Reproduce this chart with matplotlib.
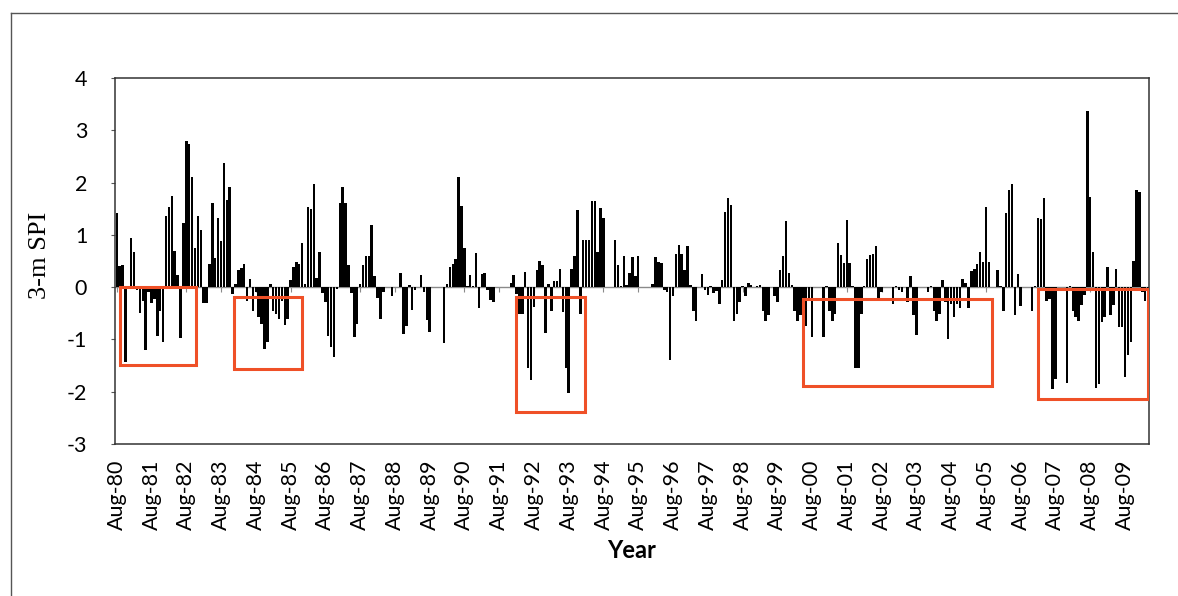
import matplotlib
matplotlib.use("Agg")
import matplotlib.pyplot as plt
import matplotlib.patches as patches
from matplotlib.lines import Line2D
import numpy as np

plt.rcParams["axes.unicode_minus"] = False

# 3-month SPI, monthly from Aug-1980
spi_80s = [
    1.41, 0.40, 0.42, -1.43, 0.02, 0.94, 0.67, -0.06, -0.50, -0.26, -1.20, -0.10,
    -0.30, -0.22, -0.94, -0.45, -1.04, 1.36, 1.54, 1.74, 0.70, 0.24, -0.98, 1.22,
    2.79, 2.74, 2.11, 0.75, 1.36, 1.09, -0.30, -0.30, 0.45, 1.61, 0.56, 1.32,
    0.88, 2.38, 1.66, 1.92, -0.13, 0.06, 0.32, 0.37, 0.44, -0.26, 0.15, -0.46,
    -0.10, -0.58, -0.70, -1.18, -1.04, 0.06, -0.45, -0.51, -0.60, -0.26, -0.73, -0.60,
    0.13, 0.38, 0.48, 0.45, 0.85, 0.06, 1.54, 1.50, 1.97, 0.18, 0.68, -0.12,
    -0.29, -0.93, -1.14, -1.34, -0.03, 1.61, 1.92, 1.60, 0.42, -0.11, -0.96, -0.70,
    0.06, 0.43, 0.59, 0.59, 1.18, 0.21, -0.21, -0.61, -0.10, 0.00, 0.00, -0.16,
    0.00, 0.00, 0.28, -0.90, -0.74, 0.05, -0.44, -0.05, 0.00, 0.24, -0.10, -0.63,
    -0.86, 0.00, 0.00, 0.00, 0.00, -1.06, 0.06, 0.38, 0.45, 0.54, 2.10, 1.55,
]
spi_90s = [
    0.74, 0.03, 0.24, 0.03, 0.65, -0.40, 0.26, 0.28, -0.06, -0.24, -0.29,
    0.01, 0.00, 0.00, 0.00, 0.00, 0.08, 0.24, -0.13, -0.51, -0.51, 0.29, -1.54,
    -1.77, -0.38, 0.32, 0.50, 0.42, -0.88, 0.06, -0.45, 0.12, 0.12, 0.35, -0.48,
    -1.54, -2.02, 0.34, 0.60, 1.47, -0.51, 0.90, 0.90, 0.91, 1.65, 1.65, 0.68,
    1.52, 1.32, 0.00, 0.00, 0.00, 0.91, 0.43, 0.03, 0.60, 0.05, 0.28, 0.58,
    0.21, 0.60, 0.00, 0.00, 0.00, 0.00, 0.06, 0.58, 0.48, 0.46, -0.06, -0.10,
    -1.40, -0.16, 0.64, 0.80, 0.64, 0.33, 0.79, 0.04, -0.45, -0.64, 0.00, 0.26,
    -0.06, -0.15, 0.03, -0.12, -0.08, -0.32, 0.13, 1.44, 1.71, 1.57, -0.64, -0.51,
    -0.28, 0.02, -0.16, 0.08, 0.05, 0.00, 0.03, 0.04, -0.45, -0.64, -0.54, 0.00,
    -0.16, -0.29, 0.32, 0.59, 1.27, 0.28, 0.04, -0.45, -0.64, -0.54, -0.22,
]
spi_00s = [
    -0.74, -0.26, -0.95, 0.00, 0.00, 0.00, -0.96, 0.03, -0.45, -0.64, -0.51, 0.85,
    0.61, 0.46, 1.29, 0.46, 0.03, -1.54, -1.54, -0.51, 0.03, 0.54, 0.61, 0.64,
    0.79, -0.26, -0.10, 0.00, 0.00, 0.00, -0.32, 0.03, -0.06, -0.10, 0.00, -0.29,
    0.22, -0.54, -0.92, 0.00, 0.00, 0.00, -0.10, 0.03, -0.45, -0.64, -0.51, 0.13,
    -0.29, -0.99, -0.32, -0.58, -0.32, -0.40, 0.15, 0.08, -0.40, 0.30, 0.35, 0.45,
    0.68, 0.48, 1.54, 0.48, 0.00, 0.00, 0.33, 0.03, -0.45, 1.42, 1.86, 1.98,
    -0.54, 0.26, -0.36, 0.00, 0.00, 0.00, -0.45, 0.03, 1.32, 1.31, 1.71, -0.26,
    -0.22, -1.94, -1.76, 0.00, 0.00, 0.00, -1.84, 0.03, -0.45, -0.58, -0.64, -0.35,
    -0.15, 3.36, 1.73, 0.67, -1.92, -1.86, -0.67, -0.58, 0.38, -0.54, -0.35,
    0.35, -0.77, -0.77, -1.71, -1.30, -1.04, 0.50, 1.86, 1.82, -0.10, -0.26, -0.35,
]
spi = np.array(spi_80s + spi_90s + spi_00s)

years = ["80", "81", "82", "83", "84", "85", "86", "87", "88", "89",
         "90", "91", "92", "93", "94", "95", "96", "97", "98", "99",
         "00", "01", "02", "03", "04", "05", "06", "07", "08", "09"]
tick_labels = ["Aug-" + y for y in years]

# drought periods marked with red boxes (month index, SPI)
box_x0 = [1.1, 40.5, 137.8, 236.8, 318.1]
box_x1 = [27.3, 63.8, 161.6, 302.0, 356.1]
box_top = [0.01, -0.19, -0.18, -0.22, -0.03]
box_bot = [-1.49, -1.57, -2.38, -1.90, -2.14]

fig = plt.figure(figsize=(11.78, 5.96), dpi=100)
ax = fig.add_axes([115/1178, 1-444/596, 1034/1178, 366/596])

months = np.arange(len(spi))
ax.bar(months, spi, width=0.85, color="black", zorder=2)
ax.axhline(0, color="#8a8a8a", lw=1, zorder=1)

ticks = np.arange(0, 12*len(years), 12)
ax.vlines(ticks, -0.1, 0, color="#8a8a8a", lw=0.8, zorder=1)

for x0, x1, t, b in zip(box_x0, box_x1, box_top, box_bot):
    ax.add_patch(patches.Rectangle((x0, b), x1-x0, t-b, fill=False,
                                   edgecolor="#ef5027", lw=2.2, zorder=3))

ax.set_xlim(-0.6, 356.3)
ax.set_ylim(-3, 4)
ax.set_yticks(range(-3, 5))
ax.set_xticks(ticks)
ax.set_xticklabels(tick_labels, rotation=90, fontsize=15.5, family="Lato")
for lab in ax.get_yticklabels():
    lab.set_family("Lato")
    lab.set_fontsize(15.5)
ax.tick_params(axis="x", length=0, pad=11)
ax.tick_params(axis="y", direction="out", length=3, width=0.8,
               color="#555555", pad=17)
for s in ax.spines.values():
    s.set_color("#333333")
    s.set_linewidth(1.1)

fig.text(632/1178, 1-550/596, "Year", ha="center", va="center",
         fontsize=17, fontweight="bold", family="Lato")
fig.text(40/1178, 1-255/596, "3-m SPI", ha="center", va="center",
         rotation=90, fontsize=19, family="Liberation Serif")

# outer chart frame (only top and left edges are in view)
fig.add_artist(Line2D([11/1178, 11/1178], [0, 1-13/596],
                      transform=fig.transFigure, color="#555555", lw=1))
fig.add_artist(Line2D([11/1178, 1], [1-13/596, 1-13/596],
                      transform=fig.transFigure, color="#555555", lw=1))

fig.savefig("out.png", dpi=100)
